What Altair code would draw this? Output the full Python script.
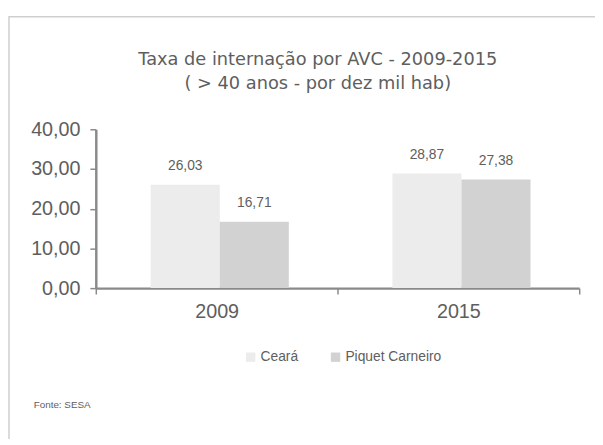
import altair as alt
import pandas as pd

years = ["2009", "2015"]
series = ["Ceará", "Piquet Carneiro"]
ceara = [26.03, 28.87]
piquet = [16.71, 27.38]
y_ticks = [0, 10, 20, 30, 40]
colors = ["#ececec", "#d2d2d2"]
title_lines = ["Taxa de internação por AVC - 2009-2015", "( > 40 anos - por dez mil hab)"]
source = "Fonte: SESA"

rows = []
for i, yr in enumerate(years):
    rows.append({"ano": yr, "serie": series[0], "valor": ceara[i]})
    rows.append({"ano": yr, "serie": series[1], "valor": piquet[i]})
df = pd.DataFrame(rows)
df["rotulo"] = df["valor"].map(lambda v: f"{v:.2f}".replace(".", ","))

FONT = "Liberation Sans"
GRAY = "#5e5e5e"
AXIS = "#8a8a8a"

x = alt.X("ano:N", title=None, sort=years,
          scale=alt.Scale(paddingInner=0, paddingOuter=0),
          axis=alt.Axis(labelAngle=0, labelFontSize=20, labelFont=FONT, labelColor=GRAY,
                        labelPadding=8, domainColor=AXIS, domainWidth=2.5, tickColor=AXIS,
                        tickWidth=1.5, tickSize=6, tickBand="extent", ticks=True))
xo = alt.XOffset("serie:N", sort=series, scale=alt.Scale(paddingInner=0, paddingOuter=0.75, align=0.53))
y = alt.Y("valor:Q", title=None,
          scale=alt.Scale(domain=[0, 40], nice=False),
          axis=alt.Axis(values=y_ticks, grid=False, labelFontSize=20, labelFont=FONT,
                        labelColor=GRAY, labelExpr="replace(format(datum.value, '.2f'), '.', ',')",
                        domainColor=AXIS, domainWidth=2.5, tickColor=AXIS, tickWidth=1.5,
                        tickSize=6, labelPadding=10))

base = alt.Chart(df)
bars = base.mark_bar().encode(
    x=x, xOffset=xo, y=y,
    color=alt.Color("serie:N", sort=series, title=None,
                    scale=alt.Scale(domain=series, range=colors),
                    legend=alt.Legend(orient="none", legendX=150, legendY=224, direction="horizontal",
                                      symbolType="square", symbolSize=90, symbolStrokeWidth=0,
                                      labelFontSize=14, labelFont=FONT, labelColor=GRAY,
                                      columnPadding=30, symbolOffset=0, labelOffset=3)),
)
labels = base.mark_text(dy=-19, fontSize=14, font=FONT, color=GRAY).encode(
    x=alt.X("ano:N", sort=years), xOffset=alt.XOffset("serie:N", sort=series),
    y="valor:Q", text="rotulo:N")

TFONT = "DejaVu Sans"
title1 = alt.Chart(pd.DataFrame({"t": [title_lines[0]]})).mark_text(
    fontSize=18, font=TFONT, color=GRAY, baseline="middle").encode(
    x=alt.value(225), y=alt.value(-70), text="t:N")
title2 = alt.Chart(pd.DataFrame({"t": [title_lines[1]]})).mark_text(
    fontSize=18, font=TFONT, color=GRAY, baseline="middle").encode(
    x=alt.value(225), y=alt.value(-46), text="t:N")

fonte = alt.Chart(pd.DataFrame({"t": [source]})).mark_text(
    align="left", fontSize=10, font=FONT, color=GRAY).encode(
    x=alt.value(-63), y=alt.value(280), text="t:N")

border = alt.Chart(pd.DataFrame({"t": [1]})).mark_rect(
    fill=None, stroke="#cfcfcf", strokeWidth=1.5).encode(
    x=alt.value(-88), x2=alt.value(520), y=alt.value(-114), y2=alt.value(330))

chart = alt.layer(border, bars, labels, title1, title2, fonte).properties(
    width=490, height=161,
    padding={"left": 89, "top": 120, "right": 16, "bottom": 150},
    autosize=alt.AutoSizeParams(type="none"),
).configure_view(stroke=None)

chart.save("out.html", embed_options={"renderer": "svg", "actions": False})
